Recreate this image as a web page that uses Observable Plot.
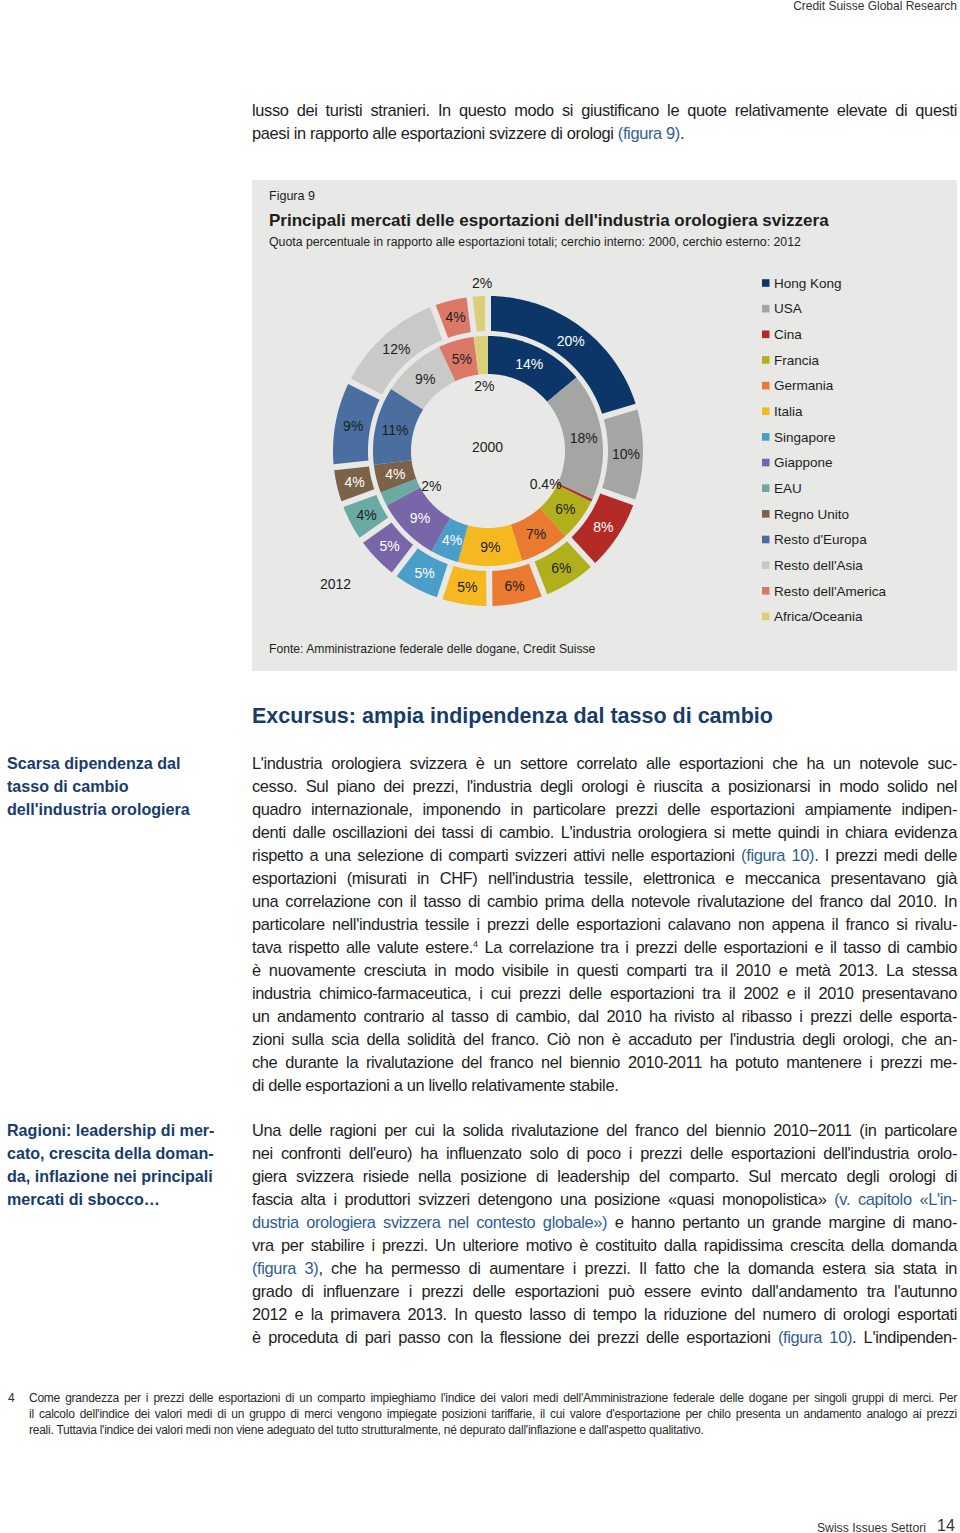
<!DOCTYPE html>
<html><head><meta charset="utf-8">
<script src="https://cdn.jsdelivr.net/npm/d3@7"></script>
<script src="https://cdn.jsdelivr.net/npm/@observablehq/plot@0.6"></script>
<style>
html,body{margin:0;padding:0;background:#fff;}
body{width:960px;height:1533px;position:relative;overflow:hidden;font-family:"Liberation Sans",Arial,sans-serif;color:#1e1e1e;}
.abs{position:absolute;white-space:nowrap;}
.abs>span{white-space:nowrap;display:inline-block;}
.body{font-size:16.4px;letter-spacing:-0.35px;}
.side{font-size:16.1px;font-weight:bold;color:#173c6c;}
.lk{color:#2f5e92;}
.foot{font-size:12px;letter-spacing:-0.25px;color:#2a2a2a;}
#box{position:absolute;left:252px;top:180px;width:705px;height:491px;background:#e8e8e6;}
#chart{position:absolute;left:252px;top:265px;}
sup{font-size:9px;line-height:0;vertical-align:6px;}
</style></head><body>
<div id="box"></div>
<div id="chart"></div>
<script>
// ---------- chart data ----------
const markets = ["Hong Kong","USA","Cina","Francia","Germania","Italia","Singapore","Giappone","EAU","Regno Unito","Resto d'Europa","Resto dell'Asia","Resto dell'America","Africa/Oceania"];
const share2000 = [14,18,0.4,6,7,9,4,9,2,4,11,9,5,2];
const share2012 = [20.4,10,7.8,5.9,5.8,5.2,5.3,4.9,4.2,3.9,9.1,11.8,3.9,1.9];
const years = ["2000","2012"];
const colors = ["#0c3668","#a4a6a4","#b42a27","#b1b01c","#e97a30","#f6b821","#4b9ec8","#7866a9","#6aaaa3","#7c6248","#4a6e9f","#c9cac8","#dc7868","#dbd07a"];

// ---------- layout / style ----------
const lightText = new Set(["Hong Kong","Cina","Singapore","Giappone","Regno Unito"]);
const rings = {
  "2000": {rIn: 77, rOut: 115, gap: 0, values: share2000},
  "2012": {rIn: 120, rOut: 155, gap: 6, values: share2012}
};
// labels placed outside the ring (radius, angle shift in degrees)
const labelOverride = {
  "2000|Africa/Oceania": {r: 65, da: 0},
  "2000|Cina": {r: 66, da: 4.6},
  "2000|EAU": {r: 67, da: -6.6},
  "2012|Africa/Oceania": {r: 168, da: 1.2}
};
const fmt = v => (v < 1 ? v.toFixed(1) : Math.round(v)) + "%";

function ringGeometry(year) {
  const {rIn, rOut, gap, values} = rings[year];
  const total = d3.sum(values);
  const pts = [], labels = [];
  let cum = 0;
  values.forEach((v, i) => {
    const a0 = cum / total * 2 * Math.PI; cum += v;
    const a1 = cum / total * 2 * Math.PI;
    const dIn = gap / 2 / rIn, dOut = gap / 2 / rOut;
    const N = 60;
    for (let k = 0; k <= N; k++) {
      const t = k / N;
      const ti = a0 + dIn + (a1 - a0 - 2 * dIn) * t;
      const to = a0 + dOut + (a1 - a0 - 2 * dOut) * t;
      pts.push({key: year + "-" + i, market: markets[i],
        x1: rIn * Math.sin(ti), y1: rIn * Math.cos(ti),
        x2: rOut * Math.sin(to), y2: rOut * Math.cos(to)});
    }
    const ov = labelOverride[year + "|" + markets[i]];
    const am = (a0 + a1) / 2 + (ov ? ov.da * Math.PI / 180 : 0);
    const r = ov ? ov.r : (rIn + rOut) / 2;
    labels.push({market: markets[i], label: fmt(v), x: r * Math.sin(am), y: r * Math.cos(am),
      light: !ov && lightText.has(markets[i])});
  });
  return {pts, labels};
}
const g2000 = ringGeometry("2000"), g2012 = ringGeometry("2012");
const allLabels = g2000.labels.concat(g2012.labels);
const yearLabels = [{t: years[0], x: -1, y: 4}, {t: years[1], x: -153, y: -133}];
const legend = markets.map((m, i) => ({market: m, y: 168 - i * 25.65}));

const plot = Plot.plot({
  width: 705, height: 380, margin: 0,
  style: {background: "transparent", fontFamily: "'Liberation Sans', Arial, sans-serif", overflow: "visible"},
  x: {domain: [-236, 469], range: [0, 705], axis: null},
  y: {domain: [-194, 186], range: [380, 0], axis: null},
  color: {domain: markets, range: colors},
  marks: [
    Plot.area(g2012.pts, {x1: "x1", y1: "y1", x2: "x2", y2: "y2", z: "key", fill: "market"}),
    Plot.area(g2000.pts, {x1: "x1", y1: "y1", x2: "x2", y2: "y2", z: "key", fill: "market"}),
    Plot.text(allLabels.filter(d => !d.light), {x: "x", y: "y", text: "label", fill: "#1e1e1e", fontSize: 14}),
    Plot.text(allLabels.filter(d => d.light), {x: "x", y: "y", text: "label", fill: "#ffffff", fontSize: 14}),
    Plot.text(yearLabels, {x: "x", y: "y", text: "t", fill: "#1e1e1e", fontSize: 14}),
    Plot.rect(legend, {x1: 274, x2: 281.5, y1: d => d.y - 3.8, y2: d => d.y + 3.8, fill: "market"}),
    Plot.text(legend, {x: 285.5, y: "y", text: "market", textAnchor: "start", fill: "#1e1e1e", fontSize: 13.5})
  ]
});
document.getElementById("chart").appendChild(plot);

// ---------- page text ----------
function justify(span, target, force) {
  const w = span.getBoundingClientRect().width;
  const n = (span.textContent.match(/ /g) || []).length;
  if (n && (force || w > target)) span.style.wordSpacing = ((target - w) / n) + "px";
}
function fit(span, target) {
  const w = span.getBoundingClientRect().width;
  const fs = parseFloat(getComputedStyle(span).fontSize);
  span.style.fontSize = (fs * target / w) + "px";
}
function addText(html, x, yc, lh, cls, opts = {}) {
  const div = document.createElement("div");
  div.className = "abs " + cls;
  if (opts.right != null) div.style.right = opts.right + "px"; else div.style.left = x + "px";
  div.style.top = (yc - lh / 2 - 0.5) + "px";
  div.style.lineHeight = lh + "px";
  if (opts.style) Object.assign(div.style, opts.style);
  const span = document.createElement("span");
  span.innerHTML = html.replace(/\{/g, '<span class="lk">').replace(/\}/g, "</span>");
  div.appendChild(span);
  document.body.appendChild(div);
  if (opts.fit) fit(span, opts.fit);
  if (opts.width) justify(span, opts.width, opts.force);
  return span;
}
function addLines(lines, x, yc0, lh, cls, width, justifyAll) {
  lines.forEach((t, i) => addText(t, x, yc0 + i * lh, lh, cls,
    {width, force: width && (justifyAll || i < lines.length - 1)}));
}

addText("Credit Suisse Global Research", 0, 6, 14, "", {right: 3, style: {fontSize: "12px", color: "#333"}, fit: 164});

addLines([
  "lusso dei turisti stranieri. In questo modo si giustificano le quote relativamente elevate di questi",
  "paesi in rapporto alle esportazioni svizzere di orologi {(figura 9)}."
], 252, 111, 23, "body", 705, false);

addText("Figura 9", 269, 197, 15, "", {style: {fontSize: "12.5px"}, fit: 46});
addText("Principali mercati delle esportazioni dell'industria orologiera svizzera", 269, 221, 20, "", {style: {fontSize: "16px", fontWeight: "bold"}, fit: 560});
addText("Quota percentuale in rapporto alle esportazioni totali; cerchio interno: 2000, cerchio esterno: 2012", 269, 243, 15, "", {style: {fontSize: "12.5px"}, fit: 532});
addText("Fonte: Amministrazione federale delle dogane, Credit Suisse", 269, 650, 15, "", {style: {fontSize: "12.5px"}, fit: 327});

addText("Excursus: ampia indipendenza dal tasso di cambio", 252, 716, 26, "", {style: {fontSize: "21px", fontWeight: "bold", color: "#173c6c"}, fit: 521});

addLines(["Scarsa dipendenza dal", "tasso di cambio", "dell'industria orologiera"], 7, 764, 23, "side");
addLines(["Ragioni: leadership di mer-", "cato, crescita della doman-", "da, inflazione nei principali", "mercati di sbocco…"], 7, 1131, 23, "side");

addLines([
  "L'industria orologiera svizzera è un settore correlato alle esportazioni che ha un notevole suc-",
  "cesso. Sul piano dei prezzi, l'industria degli orologi è riuscita a posizionarsi in modo solido nel",
  "quadro internazionale, imponendo in particolare prezzi delle esportazioni ampiamente indipen-",
  "denti dalle oscillazioni dei tassi di cambio. L'industria orologiera si mette quindi in chiara evidenza",
  "rispetto a una selezione di comparti svizzeri attivi nelle esportazioni {(figura 10)}. I prezzi medi delle",
  "esportazioni (misurati in CHF) nell'industria tessile, elettronica e meccanica presentavano già",
  "una correlazione con il tasso di cambio prima della notevole rivalutazione del franco dal 2010. In",
  "particolare nell'industria tessile i prezzi delle esportazioni calavano non appena il franco si rivalu-",
  "tava rispetto alle valute estere.<sup>4</sup> La correlazione tra i prezzi delle esportazioni e il tasso di cambio",
  "è nuovamente cresciuta in modo visibile in questi comparti tra il 2010 e metà 2013. La stessa",
  "industria chimico-farmaceutica, i cui prezzi delle esportazioni tra il 2002 e il 2010 presentavano",
  "un andamento contrario al tasso di cambio, dal 2010 ha rivisto al ribasso i prezzi delle esporta-",
  "zioni sulla scia della solidità del franco. Ciò non è accaduto per l'industria degli orologi, che an-",
  "che durante la rivalutazione del franco nel biennio 2010-2011 ha potuto mantenere i prezzi me-",
  "di delle esportazioni a un livello relativamente stabile."
], 252, 764, 23, "body", 705, false);

addLines([
  "Una delle ragioni per cui la solida rivalutazione del franco del biennio 2010−2011 (in particolare",
  "nei confronti dell'euro) ha influenzato solo di poco i prezzi delle esportazioni dell'industria orolo-",
  "giera svizzera risiede nella posizione di leadership del comparto. Sul mercato degli orologi di",
  "fascia alta i produttori svizzeri detengono una posizione «quasi monopolistica» {(v. capitolo «L'in-}",
  "{dustria orologiera svizzera nel contesto globale»)} e hanno pertanto un grande margine di mano-",
  "vra per stabilire i prezzi. Un ulteriore motivo è costituito dalla rapidissima crescita della domanda",
  "{(figura 3)}, che ha permesso di aumentare i prezzi. Il fatto che la domanda estera sia stata in",
  "grado di influenzare i prezzi delle esportazioni può essere evinto dall'andamento tra l'autunno",
  "2012 e la primavera 2013. In questo lasso di tempo la riduzione del numero di orologi esportati",
  "è proceduta di pari passo con la flessione dei prezzi delle esportazioni {(figura 10)}. L'indipenden-"
], 252, 1131, 23, "body", 705, true);

addText("4", 8, 1398, 16, "foot");
addLines([
  "Come grandezza per i prezzi delle esportazioni di un comparto impieghiamo l'indice dei valori medi dell'Amministrazione federale delle dogane per singoli gruppi di merci. Per",
  "il calcolo dell'indice dei valori medi di un gruppo di merci vengono impiegate posizioni tariffarie, il cui valore d'esportazione per chilo presenta un andamento analogo ai prezzi",
  "reali. Tuttavia l'indice dei valori medi non viene adeguato del tutto strutturalmente, né depurato dall'inflazione e dall'aspetto qualitativo."
], 29, 1398, 16, "foot", 928, false);

addText("Swiss Issues Settori", 817, 1528, 14, "", {style: {fontSize: "12px", color: "#333"}, fit: 109});
addText("14", 937, 1526, 18, "", {style: {fontSize: "16px", color: "#333"}});
</script>
</body></html>
